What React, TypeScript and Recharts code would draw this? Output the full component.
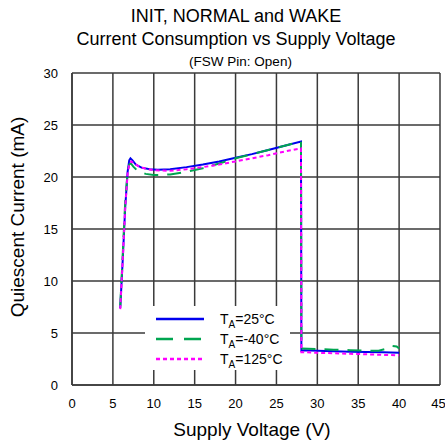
import { LineChart, Line, XAxis, YAxis, CartesianGrid } from "recharts"

// supply voltage (V) / quiescent current (mA)
const t25 = [
  { x: 5.9, y: 7.4 }, { x: 6.2, y: 12 }, { x: 6.5, y: 17 }, { x: 6.8, y: 20.5 },
  { x: 7.0, y: 21.6 }, { x: 7.15, y: 21.8 }, { x: 7.4, y: 21.6 }, { x: 7.8, y: 21.2 },
  { x: 8.5, y: 20.9 }, { x: 9.5, y: 20.75 }, { x: 10.5, y: 20.7 }, { x: 12, y: 20.75 },
  { x: 14, y: 20.95 }, { x: 16, y: 21.2 }, { x: 18, y: 21.5 }, { x: 20, y: 21.85 },
  { x: 22, y: 22.2 }, { x: 24, y: 22.6 }, { x: 26, y: 23.0 }, { x: 28, y: 23.4 },
  { x: 28.05, y: 3.3 }, { x: 28.4, y: 3.35 }, { x: 30, y: 3.3 }, { x: 32, y: 3.25 },
  { x: 34, y: 3.2 }, { x: 36, y: 3.18 }, { x: 38, y: 3.15 }, { x: 40, y: 3.1 },
]

const tMinus40 = [
  { x: 5.9, y: 7.6 }, { x: 6.2, y: 12.5 }, { x: 6.5, y: 17.5 }, { x: 6.8, y: 20.5 },
  { x: 7.0, y: 21.2 }, { x: 7.2, y: 21.3 }, { x: 7.5, y: 21.0 }, { x: 8.0, y: 20.6 },
  { x: 9, y: 20.3 }, { x: 10, y: 20.2 }, { x: 11, y: 20.2 }, { x: 12, y: 20.25 },
  { x: 14, y: 20.5 }, { x: 16, y: 20.85 }, { x: 18, y: 21.3 }, { x: 20, y: 21.8 },
  { x: 22, y: 22.2 }, { x: 24, y: 22.6 }, { x: 26, y: 23.0 }, { x: 28, y: 23.4 },
  { x: 28.05, y: 3.5 }, { x: 30, y: 3.45 }, { x: 32, y: 3.4 }, { x: 34, y: 3.35 },
  { x: 36, y: 3.3 }, { x: 37.5, y: 3.3 }, { x: 38.5, y: 3.5 }, { x: 39.2, y: 3.75 },
  { x: 39.7, y: 3.7 }, { x: 40, y: 3.5 },
]

const t125 = [
  { x: 5.9, y: 7.3 }, { x: 6.2, y: 12 }, { x: 6.5, y: 17 }, { x: 6.8, y: 20.3 },
  { x: 7.0, y: 21.2 }, { x: 7.25, y: 21.5 }, { x: 7.6, y: 21.3 }, { x: 8.2, y: 21.0 },
  { x: 9, y: 20.8 }, { x: 10, y: 20.65 }, { x: 12, y: 20.6 }, { x: 14, y: 20.75 },
  { x: 16, y: 20.95 }, { x: 18, y: 21.2 }, { x: 20, y: 21.5 }, { x: 22, y: 21.8 },
  { x: 24, y: 22.1 }, { x: 26, y: 22.45 }, { x: 28, y: 22.75 },
  { x: 28.05, y: 3.15 }, { x: 28.4, y: 3.15 }, { x: 30, y: 3.1 }, { x: 32, y: 3.05 },
  { x: 34, y: 3.0 }, { x: 36, y: 2.95 }, { x: 38, y: 2.9 }, { x: 40, y: 2.85 },
]

const xTicks = [0, 5, 10, 15, 20, 25, 30, 35, 40, 45]
const yTicks = [0, 5, 10, 15, 20, 25, 30]

const series = [
  { name: "25°C", data: t25, color: "#0000ee", dash: undefined, legendDash: undefined },
  { name: "-40°C", data: tMinus40, color: "#00a550", dash: "14 9", legendDash: "17 11" },
  { name: "125°C", data: t125, color: "#ff00ff", dash: "4 3", legendDash: "4 3" },
]

const FONT = '"Liberation Sans", Arial, sans-serif'

export default function App() {
  return (
    <div style={{ position: "absolute", left: 0, top: 0, width: 445, height: 444, background: "#fff", fontFamily: FONT, color: "#000" }}>
      {/* title */}
      <div style={{ position: "absolute", left: 0, width: 472, top: 5, textAlign: "center", fontSize: 18, lineHeight: "23px" }}>
        INIT, NORMAL and WAKE
        <br />
        Current Consumption vs Supply Voltage
      </div>
      <div style={{ position: "absolute", left: 0, width: 481, top: 54, textAlign: "center", fontSize: 13.5 }}>
        (FSW Pin: Open)
      </div>

      <LineChart width={445} height={444} margin={{ top: 73, right: 5, bottom: 0, left: 0 }} style={{ position: "absolute", left: 0, top: 0 }}>
        <CartesianGrid stroke="#3a3a3a" strokeWidth={1.5} />
        <XAxis
          dataKey="x"
          type="number"
          domain={[0, 45]}
          ticks={xTicks}
          height={59}
          tickLine={false}
          axisLine={{ stroke: "#3a3a3a", strokeWidth: 1.5 }}
          tickMargin={8}
          tick={{ fill: "#000", fontSize: 13, fontFamily: FONT }}
        />
        <YAxis
          type="number"
          domain={[0, 30]}
          ticks={yTicks}
          width={72}
          tickLine={false}
          axisLine={{ stroke: "#3a3a3a", strokeWidth: 1.5 }}
          tickMargin={8}
          tick={{ fill: "#000", fontSize: 13, fontFamily: FONT }}
        />
        {series.map((s) => (
          <Line
            key={s.name}
            data={s.data}
            dataKey="y"
            type="linear"
            stroke={s.color}
            strokeWidth={2}
            strokeDasharray={s.dash}
            dot={false}
            isAnimationActive={false}
          />
        ))}
      </LineChart>

      {/* axis titles */}
      <div style={{ position: "absolute", left: 64, width: 376, top: 419, textAlign: "center", fontSize: 19 }}>
        Supply Voltage (V)
      </div>
      <div
        style={{
          position: "absolute",
          left: 18,
          top: 217,
          width: 260,
          textAlign: "center",
          fontSize: 19,
          transform: "translate(-50%, -50%) rotate(-90deg)",
          whiteSpace: "nowrap",
        }}
      >
        Quiescent Current (mA)
      </div>

      {/* legend */}
      <div style={{ position: "absolute", left: 145, top: 306, width: 145, height: 64, background: "#fff" }}>
        {series.map((s, i) => (
          <div key={s.name} style={{ position: "absolute", left: 0, top: 4 + i * 20, height: 18, width: 145 }}>
            <svg width={50} height={18} style={{ position: "absolute", left: 10, top: 0 }}>
              <line x1={1} y1={9} x2={49} y2={9} stroke={s.color} strokeWidth={2.5} strokeDasharray={s.legendDash} />
            </svg>
            <span style={{ position: "absolute", left: 75, top: 1, fontSize: 14, whiteSpace: "nowrap" }}>
              T<sub style={{ fontSize: 10 }}>A</sub>={s.name}
            </span>
          </div>
        ))}
      </div>
    </div>
  )
}
